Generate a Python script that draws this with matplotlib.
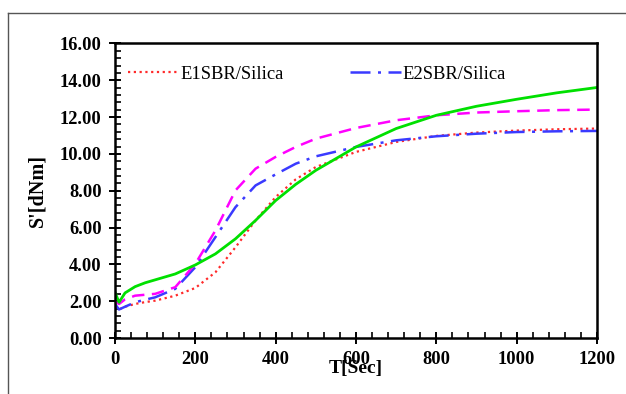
import matplotlib
matplotlib.use("Agg")
import matplotlib.pyplot as plt
from matplotlib.ticker import MultipleLocator, FormatStrFormatter
from matplotlib.lines import Line2D

# Data (time in s, torque in dNm)
t = [0, 10, 25, 50, 75, 100, 150, 200, 250, 300, 350, 400, 450, 500,
     600, 700, 800, 900, 1000, 1100, 1200]

e1 = [1.70, 1.55, 1.70, 1.85, 1.95, 2.03, 2.30, 2.72, 3.57, 4.93, 6.39, 7.66,
      8.62, 9.29, 10.11, 10.65, 10.98, 11.16, 11.27, 11.34, 11.38]
e2 = [1.85, 1.55, 1.70, 1.94, 2.08, 2.21, 2.67, 3.85, 5.48, 7.11, 8.29, 8.89,
      9.47, 9.87, 10.38, 10.74, 10.96, 11.10, 11.19, 11.23, 11.25]
e3 = [2.00, 1.85, 2.10, 2.30, 2.35, 2.40, 2.76, 4.03, 5.84, 8.02, 9.20, 9.84,
      10.38, 10.83, 11.41, 11.83, 12.10, 12.25, 12.32, 12.38, 12.41]
e4 = [2.49, 1.94, 2.45, 2.79, 3.00, 3.16, 3.48, 3.97, 4.57, 5.39, 6.39, 7.47,
      8.35, 9.11, 10.38, 11.38, 12.10, 12.59, 12.97, 13.32, 13.61]

plt.rcParams["font.family"] = ["Liberation Serif", "DejaVu Serif"]

fig = plt.figure(figsize=(6.26, 3.94), dpi=100)
ax = fig.add_axes([0.1837, 0.1421, 0.770, 0.7475])

ax.plot(t, e1, color="#ff2a2a", linestyle=(0, (1, 1.6)), linewidth=1.6,
        label="E1SBR/Silica")
ax.plot(t, e2, color="#3a3aff", linestyle=(0, (8, 3, 1.2, 3)), linewidth=1.8,
        label="E2SBR/Silica")
ax.plot(t, e3, color="#ff00ff", linestyle=(0, (5, 3)), linewidth=1.8)
ax.plot(t, e4, color="#00e000", linestyle="-", linewidth=2.0)

ax.set_xlim(0, 1200)
ax.set_ylim(0, 16)
ax.xaxis.set_major_locator(MultipleLocator(200))
ax.xaxis.set_minor_locator(MultipleLocator(40))
ax.yaxis.set_major_locator(MultipleLocator(2))
ax.yaxis.set_minor_locator(MultipleLocator(0.4))
ax.yaxis.set_major_formatter(FormatStrFormatter("%.2f"))

ax.tick_params(axis="both", which="major", direction="inout", length=9,
               width=1.4, labelsize=13.3)
ax.tick_params(axis="x", which="major", pad=5)
ax.tick_params(axis="y", which="major", pad=5)
ax.tick_params(axis="both", which="minor", direction="in", length=4, width=1.2)
ax.tick_params(top=False, right=False, which="both")
for lab in ax.get_xticklabels() + ax.get_yticklabels():
    lab.set_fontweight("bold")

for s in ax.spines.values():
    s.set_linewidth(1.8)

# x label sits low enough to just touch the "600" tick label, as in the source
ax.set_xlabel("T[Sec]", fontsize=14, fontweight="bold", labelpad=-6)
ax.set_ylabel("S'[dNm]", fontsize=14.5, fontweight="bold", labelpad=9)

leg = ax.legend(loc="center left", bbox_to_anchor=(0.027, 0.896), ncol=2,
                frameon=False, fontsize=13.4, handlelength=2.7,
                handletextpad=0.1, columnspacing=3.6, borderpad=0,
                borderaxespad=0)

# outer frame of the original figure
fig.add_artist(Line2D([8 / 626, 8 / 626], [0, 1 - 13 / 394],
                      transform=fig.transFigure, color="#555555", lw=1.0))
fig.add_artist(Line2D([8 / 626, 1.0], [1 - 13 / 394, 1 - 13 / 394],
                      transform=fig.transFigure, color="#555555", lw=1.0))

fig.savefig("out.png", dpi=100)
